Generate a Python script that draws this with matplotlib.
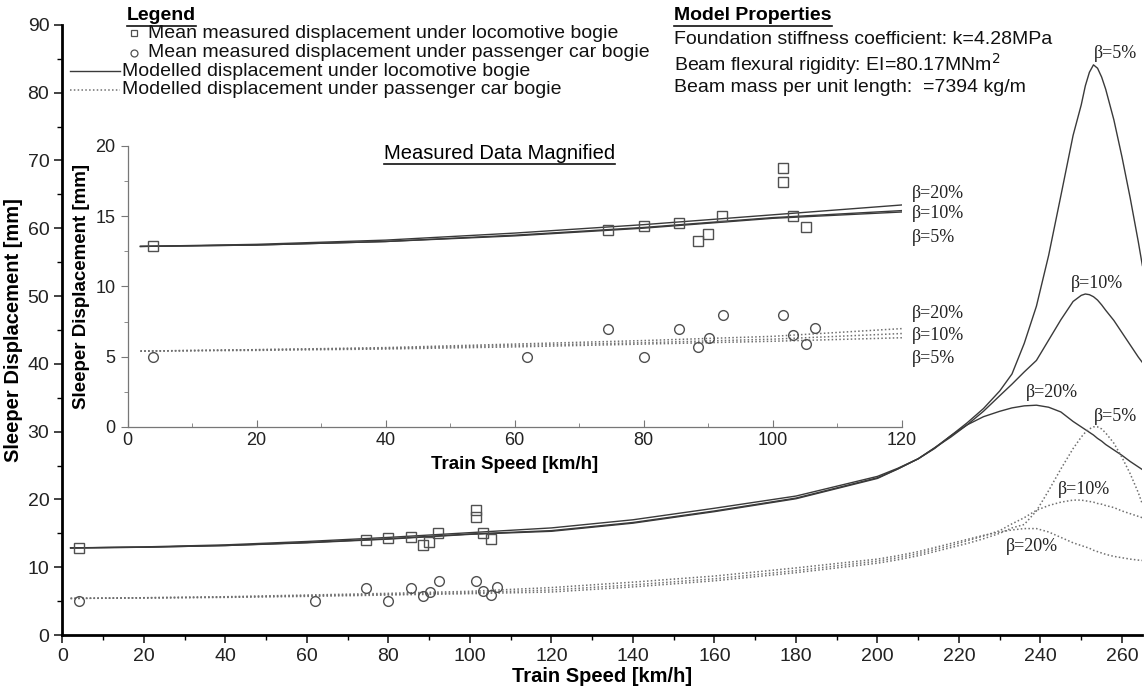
import numpy as np
import matplotlib
matplotlib.use("Agg")
import matplotlib.pyplot as plt
from matplotlib.lines import Line2D
from matplotlib.ticker import MultipleLocator

plt.rcParams['font.family'] = ['Liberation Sans', 'DejaVu Sans']

# ---- measured data (mean sleeper displacement) ----
loco_speed = [4, 74.5, 80, 85.5, 88.4, 90, 92.2, 101.6, 101.6, 103.1, 105.2]
loco_disp = [12.85, 14.0, 14.3, 14.5, 13.25, 13.7, 15.0, 18.45, 17.45, 15.0, 14.2]

pass_speed = [4, 62, 74.5, 80, 85.5, 88.5, 90.2, 92.3, 101.6, 103.1, 105.2, 106.6]
pass_disp = [4.95, 5.0, 7.0, 5.0, 7.0, 5.7, 6.3, 8.0, 8.0, 6.55, 5.9, 7.05]

# ---- modelled displacement ----
model_speed = [2, 20, 40, 60, 80, 100, 120, 140, 160, 180, 200, 205, 210, 214, 218,
               222, 226, 230, 233, 236, 239, 242, 245, 248, 250, 251, 252, 253, 254,
               255, 256, 258, 260, 262, 264, 265]

loco_b5 = [12.85, 12.95, 13.2, 13.6, 14.15, 14.85, 15.3, 16.5, 18.2, 20.1, 23.1, 24.5,
           26.0, 27.6, 29.4, 31.3, 33.4, 36.0, 38.5, 43.0, 48.5, 56.0, 64.8, 73.7,
           78.2, 81.0, 83.0, 84.1, 83.6, 82.3, 80.5, 76.0, 70.5, 64.5, 58.0, 54.5]
loco_b10 = [12.85, 12.95, 13.2, 13.65, 14.2, 14.9, 15.4, 16.6, 18.3, 20.2, 23.2, 24.5,
            26.0, 27.6, 29.2, 31.0, 33.0, 35.3, 37.0, 38.8, 40.5, 43.5, 46.5, 49.2,
            50.1, 50.3, 50.2, 49.9, 49.4, 48.7, 47.9, 46.4, 44.6, 42.8, 41.0, 40.2]
loco_b20 = [12.85, 13.0, 13.3, 13.8, 14.4, 15.1, 15.8, 17.0, 18.7, 20.5, 23.4, 24.6,
            26.0, 27.5, 29.4, 31.0, 32.2, 33.0, 33.5, 33.8, 33.9, 33.6, 32.9, 31.5,
            30.7, 30.3, 29.9, 29.5, 29.0, 28.6, 28.1, 27.3, 26.5, 25.6, 24.8, 24.4]

pass_b5 = [5.4, 5.45, 5.55, 5.7, 5.9, 6.1, 6.35, 7.1, 8.0, 9.2, 10.6, 11.1, 11.7, 12.3,
           12.9, 13.5, 14.2, 15.0, 15.8, 16.3, 18.3, 21.3, 24.5, 27.5, 29.2, 29.9,
           30.4, 30.7, 30.7, 30.4, 29.8, 28.3, 26.2, 23.8, 21.0, 19.3]
pass_b10 = [5.4, 5.5, 5.6, 5.8, 6.0, 6.25, 6.65, 7.4, 8.3, 9.5, 10.9, 11.4, 12.0, 12.6,
            13.2, 13.9, 14.6, 15.4, 16.4, 17.3, 18.4, 19.1, 19.6, 19.9, 19.9, 19.8,
            19.7, 19.6, 19.4, 19.3, 19.1, 18.8, 18.3, 17.9, 17.5, 17.3]
pass_b20 = [5.4, 5.5, 5.65, 5.9, 6.15, 6.45, 7.0, 7.8, 8.7, 9.9, 11.2, 11.7, 12.3, 12.9,
            13.5, 14.1, 14.7, 15.2, 15.5, 15.7, 15.7, 15.2, 14.4, 13.6, 13.2, 13.0,
            12.8, 12.5, 12.3, 12.1, 11.9, 11.6, 11.4, 11.2, 11.05, 11.0]

beta_names = ['\u03b2=5%', '\u03b2=10%', '\u03b2=20%']

line_col = '#3a3a3a'
dot_col = '#707070'
mark_col = '#505050'
dotted = (0, (1, 1.5))
serif = ['Liberation Serif', 'DejaVu Serif']

fig = plt.figure(figsize=(11.48, 6.86), dpi=100)

# ======================================================= #
# main axes
ax = fig.add_axes([0.0544, 0.0743, 0.9407, 0.8895])
for curve in [loco_b5, loco_b10, loco_b20]:
    ax.plot(model_speed, curve, color=line_col, lw=1.0)
for curve in [pass_b5, pass_b10, pass_b20]:
    ax.plot(model_speed, curve, color=dot_col, lw=1.1, ls=dotted)
ax.plot(loco_speed, loco_disp, ls='none', marker='s', ms=7, mfc='none', mec=mark_col, mew=1.0)
ax.plot(pass_speed, pass_disp, ls='none', marker='o', ms=7, mfc='none', mec=mark_col, mew=1.0)

ax.set_xlim(0, 265)
ax.set_ylim(0, 90)
ax.xaxis.set_major_locator(MultipleLocator(20))
ax.xaxis.set_minor_locator(MultipleLocator(10))
ax.yaxis.set_major_locator(MultipleLocator(10))
ax.yaxis.set_minor_locator(MultipleLocator(5))
for s in ['top', 'right']:
    ax.spines[s].set_visible(False)
for s in ['left', 'bottom']:
    ax.spines[s].set_linewidth(2.0)
ax.tick_params(which='major', direction='out', length=6, width=1.2, labelsize=14, colors='#222222')
ax.tick_params(which='minor', direction='out', length=3.5, width=1.0)
ax.set_xlabel('Train Speed [km/h]', fontsize=14.5, fontweight='bold')
ax.xaxis.set_label_coords(0.5, -0.052)
ax.set_ylabel('Sleeper Displacement [mm]', fontsize=14.5, fontweight='bold', labelpad=3)

main_labels = [(258.3, 85.8, 0), (253.9, 51.9, 1), (242.8, 35.7, 2),
               (258.3, 32.2, 0), (250.7, 21.4, 1), (237.9, 13.0, 2)]
for x, y, k in main_labels:
    ax.text(x, y, beta_names[k], family=serif, fontsize=13, ha='center', va='center',
            color='#222222', clip_on=False)

# ======================================================= #
# inset: measured data magnified
ins = fig.add_axes([0.1111, 0.3776, 0.6742, 0.4096])
for curve in [loco_b5, loco_b10, loco_b20]:
    ins.plot(model_speed, curve, color=line_col, lw=1.0)
for curve in [pass_b5, pass_b10, pass_b20]:
    ins.plot(model_speed, curve, color=dot_col, lw=1.1, ls=dotted)
ins.plot(loco_speed, loco_disp, ls='none', marker='s', ms=7, mfc='none', mec=mark_col, mew=1.0)
ins.plot(pass_speed, pass_disp, ls='none', marker='o', ms=7, mfc='none', mec=mark_col, mew=1.0)
ins.set_xlim(0, 120)
ins.set_ylim(0, 20)
ins.xaxis.set_major_locator(MultipleLocator(20))
ins.xaxis.set_minor_locator(MultipleLocator(10))
ins.yaxis.set_major_locator(MultipleLocator(5))
ins.yaxis.set_minor_locator(MultipleLocator(2.5))
ins.patch.set_alpha(0)
for s in ['top', 'right']:
    ins.spines[s].set_visible(False)
for s in ['left', 'bottom']:
    ins.spines[s].set_linewidth(0.9)
    ins.spines[s].set_color('#777777')
ins.tick_params(axis='x', which='both', direction='in', colors='#777777', labelcolor='#222222')
ins.tick_params(axis='y', which='both', direction='out', colors='#777777', labelcolor='#222222')
ins.tick_params(which='major', length=5, labelsize=13)
ins.tick_params(which='minor', length=3)
ins.set_xlabel('Train Speed [km/h]', fontsize=13.5, fontweight='bold', labelpad=5)
ins.set_ylabel('Sleeper Displacement [mm]', fontsize=13.5, fontweight='bold', labelpad=4)

inset_labels = [(121.6, 16.65, 2), (121.6, 15.2, 1), (121.6, 13.5, 0),
                (121.6, 8.1, 2), (121.6, 6.5, 1), (121.6, 4.9, 0)]
for x, y, k in inset_labels:
    ins.text(x, y, beta_names[k], family=serif, fontsize=13, ha='left', va='center',
             color='#222222', clip_on=False)

# ======================================================= #
# legend and model properties (figure pixel positions)
W, H = 1148.0, 686.0


def fx(px):
    return px / W


def fy(py):
    return 1 - py / H


titles = []
titles.append(fig.text(fx(127), fy(16), 'Legend', fontsize=14, fontweight='bold', va='center'))
titles.append(fig.text(fx(674), fy(16), 'Model Properties', fontsize=14, fontweight='bold', va='center'))
titles.append(ins.text(0.481, 0.975, 'Measured Data Magnified', transform=ins.transAxes,
                       fontsize=14.5, ha='center', va='center'))

rows = [33, 52.5, 71, 90]
fig.add_artist(Line2D([fx(134)], [fy(rows[0])], marker='s', ms=5, mfc='none', mec=mark_col, mew=0.9))
fig.add_artist(Line2D([fx(134)], [fy(rows[1])], marker='o', ms=5, mfc='none', mec=mark_col, mew=0.9))
fig.add_artist(Line2D([fx(70), fx(120)], [fy(rows[2])] * 2, color=line_col, lw=1.0))
fig.add_artist(Line2D([fx(70), fx(120)], [fy(rows[3])] * 2, color=dot_col, lw=1.1, ls=dotted))
legend_texts = ['Mean measured displacement under locomotive bogie',
                'Mean measured displacement under passenger car bogie',
                'Modelled displacement under locomotive bogie',
                'Modelled displacement under passenger car bogie']
legend_x = [148, 148, 122, 122]
for t, x, y in zip(legend_texts, legend_x, rows):
    fig.text(fx(x), fy(y), t, fontsize=14, va='center', color='#111111')

props = ['Foundation stiffness coefficient: k=4.28MPa',
         'Beam flexural rigidity: EI=80.17MNm$^2$',
         'Beam mass per unit length:  =7394 kg/m']
for t, y in zip(props, [39, 64, 88]):
    fig.text(fx(674), fy(y), t, fontsize=14, va='center', color='#111111')

# underline the headings
fig.canvas.draw()
renderer = fig.canvas.get_renderer()
for t in titles:
    bb = t.get_window_extent(renderer)
    fig.add_artist(Line2D([bb.x0 / W, bb.x1 / W], [(bb.y0 - 1) / H] * 2,
                          color='#111111', lw=1.2))

fig.savefig('out.png', dpi=100)
